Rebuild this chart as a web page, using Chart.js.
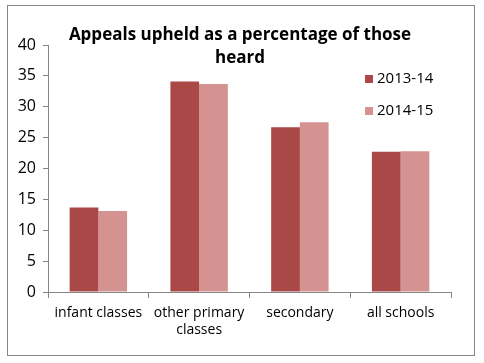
<!DOCTYPE html>
<html>
<head>
<meta charset="utf-8">
<script src="https://cdn.jsdelivr.net/npm/chart.js@4"></script>
<style>
  html, body { margin: 0; padding: 0; background: #fff; }
  #wrap { position: absolute; left: 0; top: 0; width: 484px; height: 363px; }
</style>
</head>
<body>
<div id="wrap"><canvas id="barChart" width="484" height="363"></canvas></div>
<script>
const categories = [["infant classes"], ["other primary", "classes"], ["secondary"], ["all schools"]];
const years = ["2013-14", "2014-15"];
const upheld1314 = [13.7, 34.1, 26.7, 22.7];
const upheld1415 = [13.1, 33.7, 27.5, 22.8];
const yTicks = [0, 5, 10, 15, 20, 25, 30, 35, 40];
const titleLines = ["Appeals upheld as a percentage of those", "heard"];

const colours = ['#A94846', '#D49391'];
const FONT = "'Open Sans', sans-serif";

const extras = {
    id: 'extras',
    afterDraw(chart) {
        const ctx = chart.ctx;
        ctx.save();
        // outer frame
        ctx.strokeStyle = '#868686';
        ctx.lineWidth = 1;
        ctx.strokeRect(7.5, 5.5, 467, 350);
        // title
        ctx.fillStyle = '#000';
        ctx.font = "bold 17px " + FONT;
        ctx.textAlign = 'center';
        ctx.textBaseline = 'middle';
        ctx.fillText(titleLines[0], 240, 35);
        ctx.fillText(titleLines[1], 240, 58);
        // legend
        ctx.font = "15px " + FONT;
        ctx.textAlign = 'left';
        [upheld1314, upheld1415].forEach((d, i) => {
            const y = 79 + i * 32;
            ctx.fillStyle = colours[i];
            ctx.fillRect(365, y - 4, 8, 8);
            ctx.fillStyle = '#000';
            ctx.fillText(years[i], 377, y);
        });
        ctx.restore();
    }
};

new Chart(document.getElementById("barChart"), {
    type: 'bar',
    data: {
        labels: categories,
        datasets: [
            { label: years[0], data: upheld1314, backgroundColor: colours[0] },
            { label: years[1], data: upheld1415, backgroundColor: colours[1] }
        ]
    },
    options: {
        responsive: false,
        animation: false,
        datasets: { bar: { barPercentage: 1, categoryPercentage: 0.57 } },
        layout: { padding: { top: 45, right: 33, left: 0, bottom: 0 } },
        plugins: { legend: { display: false }, tooltip: { enabled: false } },
        scales: {
            x: {
                grid: { display: true, drawOnChartArea: false, offset: true, color: '#868686', tickLength: 6 },
                border: { color: '#868686' },
                ticks: { color: '#000', font: { family: FONT, size: 14 }, maxRotation: 0, padding: 7, lineHeight: 1.4 },
                afterFit(scale) { scale.height = 363 - 292; }
            },
            y: {
                min: 0, max: 40,
                afterBuildTicks(scale) { scale.ticks = yTicks.map(v => ({ value: v })); },
                grid: { display: true, drawOnChartArea: false, color: '#868686', tickLength: 5 },
                border: { color: '#868686' },
                ticks: { color: '#000', font: { family: FONT, size: 16 }, padding: 7 },
                afterFit(scale) { scale.width = 48; }
            }
        }
    },
    plugins: [extras]
});
</script>
</body>
</html>
